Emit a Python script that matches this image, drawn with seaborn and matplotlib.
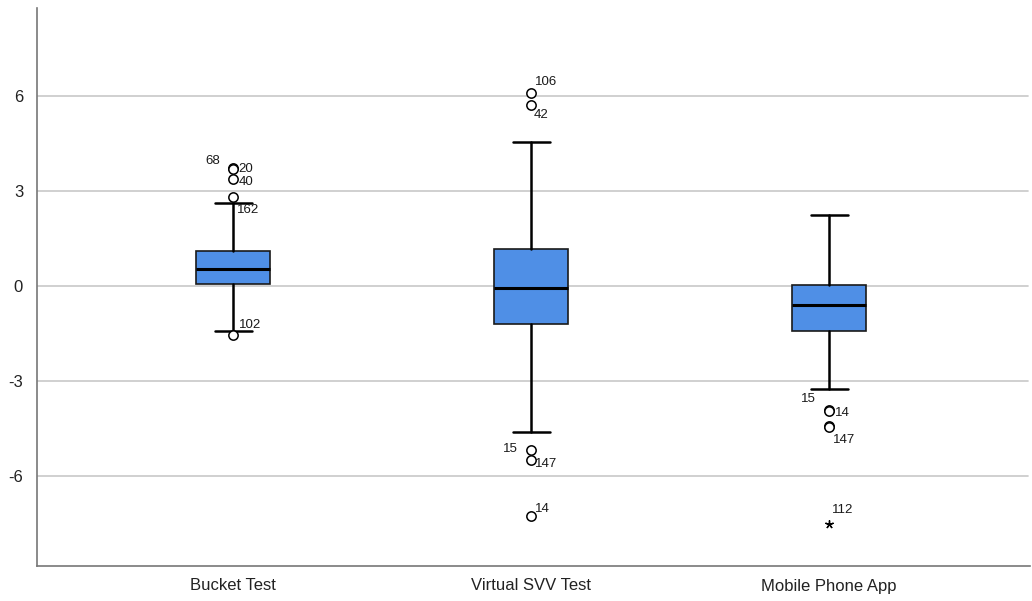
import matplotlib
matplotlib.use("Agg")
import matplotlib.pyplot as plt
import seaborn as sns
import pandas as pd

sns.set_style("white")
plt.rcParams['font.family'] = ['Liberation Sans', 'DejaVu Sans']

categories = ["Bucket Test", "Virtual SVV Test", "Mobile Phone App"]
q1 = [0.06, -1.20, -1.42]
median = [0.54, -0.06, -0.60]
q3 = [1.10, 1.17, 0.03]
whisker_low = [-1.42, -4.61, -3.25]
whisker_high = [2.62, 4.55, 2.24]

# outliers: (category index, value, label, kind)
out_cat = [0, 0, 0, 0, 0, 1, 1, 1, 1, 1, 2, 2, 2, 2]
out_val = [3.72, 3.69, 3.38, 2.81, -1.55, 6.09, 5.72, -5.18, -5.49, -7.26, -3.92, -3.95, -4.42, -4.45]
out_lab = ["68", "20", "40", "162", "102", "106", "42", "15", "147", "14", "14", "15", "147", ""]
ext_cat = [2]
ext_val = [-7.52]
ext_lab = ["112"]

fig = plt.figure(figsize=(10.32, 6.01), dpi=100)
ax = fig.add_axes([37/1032, 1-566/601, (1030-37)/1032, (566-8)/601])

stats = []
for i in range(3):
    stats.append(dict(med=median[i], q1=q1[i], q3=q3[i], whislo=whisker_low[i],
                      whishi=whisker_high[i], fliers=[], label=categories[i]))

for y in [-6, -3, 0, 3, 6]:
    ax.axhline(y, color="#c8c8c8", lw=1.2, zorder=0, xmax=0.998)

ax.bxp(stats, positions=[0, 1, 2], widths=0.248, patch_artist=True, showfliers=False,
       boxprops=dict(facecolor="#4f8fe6", edgecolor="#1a1a1a", lw=1.2),
       medianprops=dict(color="black", lw=2.2),
       whiskerprops=dict(color="black", lw=1.8),
       capprops=dict(color="black", lw=1.8), capwidths=0.124, zorder=3)

df = pd.DataFrame({"x": out_cat, "y": out_val})
sns.scatterplot(data=df, x="x", y="y", ax=ax, marker="o", s=45, facecolor="white",
                edgecolor="black", linewidth=1.1, zorder=4, legend=False)
dfe = pd.DataFrame({"x": ext_cat, "y": ext_val})
sns.scatterplot(data=dfe, x="x", y="y", ax=ax, marker=(5, 2, 0), s=30, color="black",
                linewidth=1.0, zorder=4, legend=False)

# label offsets in points
offsets = {"68": (-20, 5), "20": (4, 0), "40": (4, -2), "162": (3, -9), "102": (4, 7),
           "106": (3, 8), "42": (2, -7), "15": (-20, 1), "147": (3, -3), "14": (3, 5)}
for c, v, l in zip(out_cat, out_val, out_lab):
    if not l:
        continue
    if c == 2 and l == "14":
        off = (4, -2)
    elif c == 2 and l == "15":
        off = (-20, 9)
    elif c == 2 and l == "147":
        off = (3, -10)
    else:
        off = offsets[l]
    ax.annotate(l, (c, v), xytext=off, textcoords="offset points", fontsize=9.5,
                color="#1a1a1a", va="center", ha="left")
for c, v, l in zip(ext_cat, ext_val, ext_lab):
    ax.annotate(l, (c, v), xytext=(2, 10), textcoords="offset points", fontsize=9.5,
                color="#1a1a1a", va="center", ha="left")

ax.set_xlim(-0.658, 2.674)
ax.set_ylim(-8.84, 8.78)
ax.set_yticks([-6, -3, 0, 3, 6])
ax.set_yticklabels(["-6", "-3", "0", "3", "6"])
ax.set_xticks([0, 1, 2])
ax.set_xticklabels(categories)
ax.tick_params(axis="both", length=0, labelsize=12, colors="#222222")
ax.tick_params(axis="y", pad=10)
ax.tick_params(axis="x", pad=9)
ax.set_xlabel("")
ax.set_ylabel("")
for s in ["top", "right"]:
    ax.spines[s].set_visible(False)
for s in ["left", "bottom"]:
    ax.spines[s].set_color("#777777")
    ax.spines[s].set_linewidth(1.2)

fig.savefig("out.png", dpi=100)
